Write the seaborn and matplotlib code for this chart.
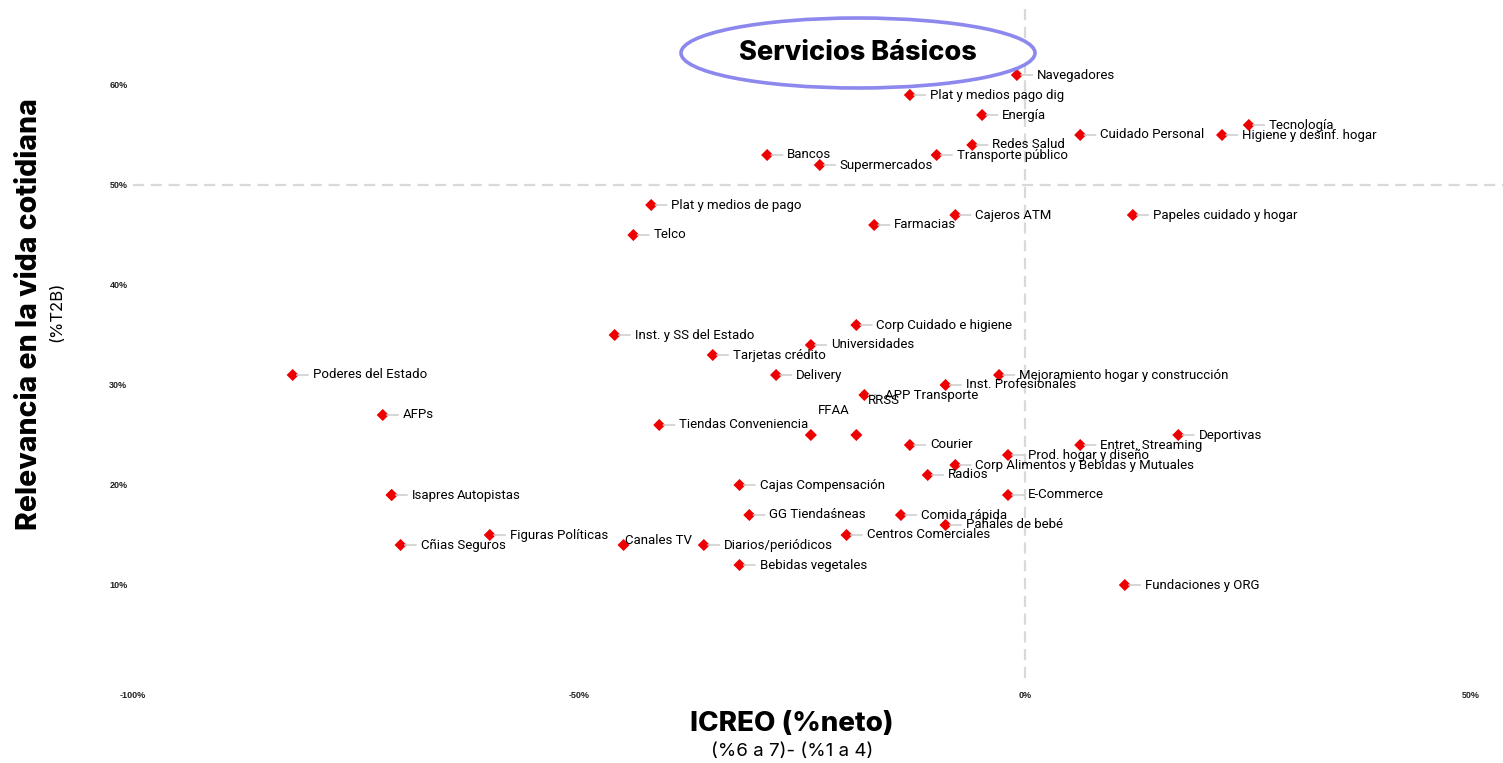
import matplotlib
matplotlib.use("Agg")
import matplotlib.pyplot as plt
import seaborn as sns
import pandas as pd
from matplotlib.patches import Ellipse

# datos
categorias = [
    "Navegadores", "Plat y medios pago dig", "Energía", "Tecnología", "Cuidado Personal",
    "Higiene y desinf. hogar", "Redes Salud", "Transporte público", "Bancos", "Supermercados",
    "Plat y medios de pago", "Cajeros ATM", "Papeles cuidado y hogar", "Farmacias", "Telco",
    "Corp Cuidado e higiene", "Inst. y SS del Estado", "Universidades", "Tarjetas crédito",
    "Poderes del Estado", "Delivery", "Mejoramiento hogar y construcción", "Inst. Profesionales",
    "APP Transporte", "RRSS", "FFAA", "AFPs", "Tiendas Conveniencia", "Deportivas", "Courier",
    "Entret. Streaming", "Prod. hogar y diseño", "Corp Alimentos y Bebidas y Mutuales", "Radios",
    "Isapres", "Autopistas", "Cajas Compensación", "E-Commerce", "GG Tiendas\u0301neas",
    "Comida rápida", "Pañales de bebé", "Figuras Políticas", "Centros Comerciales",
    "Cñias Seguros", "Canales TV", "Diarios/periódicos", "Bebidas vegetales", "Fundaciones y ORG",
]
icreo = [
    -0.9, -12.9, -4.8, 25.1, 6.2,
    22.1, -5.9, -9.9, -28.9, -23.0,
    -41.9, -7.8, 12.1, -16.9, -43.9,
    -18.9, -46.0, -24.0, -35.0,
    -82.1, -27.9, -2.9, -8.9,
    -18.0, -18.9, -24.0, -72.0, -41.0, 17.2, -12.9,
    6.2, -1.9, -7.8, -10.9,
    -71.0, -71.0, -32.0, -1.9, -30.9,
    -13.9, -8.9, -60.0, -20.0,
    -70.0, -45.0, -36.0, -32.0, 11.2,
]
relevancia = [
    61, 59, 57, 56, 55,
    55, 54, 53, 53, 52,
    48, 47, 47, 46, 45,
    36, 35, 34, 33,
    31, 31, 31, 30,
    29, 25, 25, 27, 26, 25, 24,
    24, 23, 22, 21,
    19, 19, 20, 19, 17,
    17, 16, 15, 15,
    14, 14, 14, 12, 10,
]

df = pd.DataFrame({"cat": categorias, "x": icreo, "y": relevancia})

# etiquetas desplazadas (dx, dy en puntos, sin línea guía)
especiales = {
    "RRSS": (8, 25),
    "FFAA": (5, 18),
    "Canales TV": (1, 3),
    "Autopistas": (47, 0),
}

sns.set_style("white")
plt.rcParams["font.family"] = ["Roboto", "DejaVu Sans"]
plt.rcParams["text.color"] = "black"

fig = plt.figure(figsize=(15.03, 7.63), dpi=100)
ax = fig.add_axes([133 / 1503, 1 - 685 / 763, 1 - 133 / 1503, 685 / 763])

ax.axhline(50, color="#d9d9d9", lw=1.6, ls=(0, (5, 3)), zorder=0)
ax.axvline(0, color="#d9d9d9", lw=1.6, ls=(0, (5, 3)), zorder=0, ymax=0.995, ymin=0.01)

sns.scatterplot(data=df, x="x", y="y", marker="D", color="#ee0000", s=38,
                edgecolor="none", ax=ax, zorder=3)

for _, r in df.iterrows():
    if r["cat"] in especiales:
        dx, dy = especiales[r["cat"]]
        ax.annotate(r["cat"], xy=(r["x"], r["y"]), xytext=(dx, dy), textcoords="offset points",
                    va="center", ha="left", fontsize=9.5, color="black", zorder=4)
    else:
        ax.annotate(r["cat"], xy=(r["x"], r["y"]), xytext=(14.5, 0), textcoords="offset points",
                    va="center", ha="left", fontsize=9.5, color="black", zorder=4,
                    arrowprops=dict(arrowstyle="-", color="#cfcfcf", lw=1.2,
                                    shrinkA=1, shrinkB=3))

ax.set_xlim(-100, 53.6)
ax.set_ylim(0, 68.5)
ax.set_xticks([-100, -50, 0, 50])
ax.set_xticklabels(["-100%", "-50%", "0%", "50%"])
ax.set_yticks([10, 20, 30, 40, 50, 60])
ax.set_yticklabels(["10%", "20%", "30%", "40%", "50%", "60%"])
ax.tick_params(length=0, labelsize=6.5, pad=4, labelcolor="#222222")
for lab in ax.get_xticklabels() + ax.get_yticklabels():
    lab.set_fontweight("bold")
    lab.set_family(["Liberation Sans", "DejaVu Sans"])
ax.set_xlabel("")
ax.set_ylabel("")
sns.despine(ax=ax, left=True, bottom=True)

# título con elipse
fig.patches.append(Ellipse((858 / 1503, 1 - 53 / 763), 354 / 1503, 70 / 763,
                           transform=fig.transFigure, facecolor="white",
                           edgecolor="#8c88ee", lw=2.6, zorder=5))
fig.text(858 / 1503, 1 - 53 / 763, "Servicios Básicos", ha="center", va="center",
         fontsize=19.5, fontweight="heavy", family=["Inter", "DejaVu Sans"], zorder=6)

fig.text(792 / 1503, 1 - 724 / 763, "ICREO (%neto)", ha="center", va="center",
         fontsize=20, fontweight="heavy", family=["Inter", "DejaVu Sans"])
fig.text(792 / 1503, 1 - 751 / 763, "(%6 a 7)- (%1 a 4)", ha="center", va="center",
         fontsize=13.5, family=["Inter", "DejaVu Sans"])
fig.text(30 / 1503, 1 - 314 / 763, "Relevancia en la vida cotidiana", ha="center", va="center",
         rotation=90, fontsize=20.5, fontweight="heavy", family=["Inter", "DejaVu Sans"])
fig.text(57 / 1503, 1 - 312 / 763, "(%T2B)", ha="center", va="center",
         rotation=90, fontsize=12, family=["Inter", "DejaVu Sans"])

fig.savefig("out.png", dpi=100)
